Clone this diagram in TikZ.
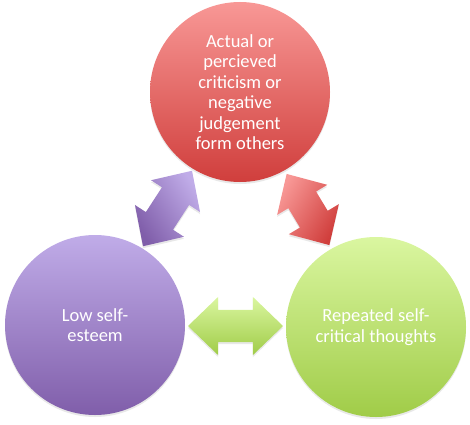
\documentclass[tikz,border=0pt]{standalone}
\usepackage{fontspec}
\setmainfont{Carlito}
\usetikzlibrary{calc,shapes.arrows,shadows}

\definecolor{critTop}{RGB}{248,152,150}
\definecolor{critBot}{RGB}{208,62,60}
\definecolor{lowTop}{RGB}{192,172,232}
\definecolor{lowBot}{RGB}{128,94,170}
\definecolor{repTop}{RGB}{218,246,160}
\definecolor{repBot}{RGB}{160,204,72}

\begin{document}
\begin{tikzpicture}[
    x=1pt, y=1pt,
    bubble/.style={circle, minimum size=180pt, inner sep=0pt, align=center, text=white,
        font=\fontsize{18.5}{20.5}\selectfont,
        drop shadow={opacity=0.18, shadow xshift=0pt, shadow yshift=-2pt}},
    dblarrow/.style={double arrow, minimum height=#1, minimum width=58pt,
        double arrow head extend=13pt, double arrow tip angle=88,
        inner xsep=0pt, inner ysep=16pt,
        drop shadow={opacity=0.18, shadow xshift=0pt, shadow yshift=-2pt}}
]
    \useasboundingbox (0,0) rectangle (470,424);

    \node[bubble, top color=critTop, bottom color=critBot] (crit) at (240,332)
        {Actual or\\percieved\\criticism or\\negative\\judgement\\form others};
    \node[bubble, top color=lowTop, bottom color=lowBot] (low) at (95,99)
        {Low self-\\esteem};
    \node[bubble, top color=repTop, bottom color=repBot] (rep) at (376,97)
        {Repeated self-\\critical thoughts};

    \node[dblarrow=90pt, rotate=57, top color=lowTop, bottom color=lowBot,
        shading angle=-57] (lowcrit) at ($(low)!0.5!(crit)$) {};
    \node[dblarrow=83pt, rotate=-59, top color=critTop, bottom color=critBot,
        shading angle=59] (critrep) at ($(crit)!0.5!(rep)$) {};
    \node[dblarrow=95pt, top color=repTop, bottom color=repBot] (replow)
        at ($(low)!0.5!(rep)$) {};
\end{tikzpicture}
\end{document}
